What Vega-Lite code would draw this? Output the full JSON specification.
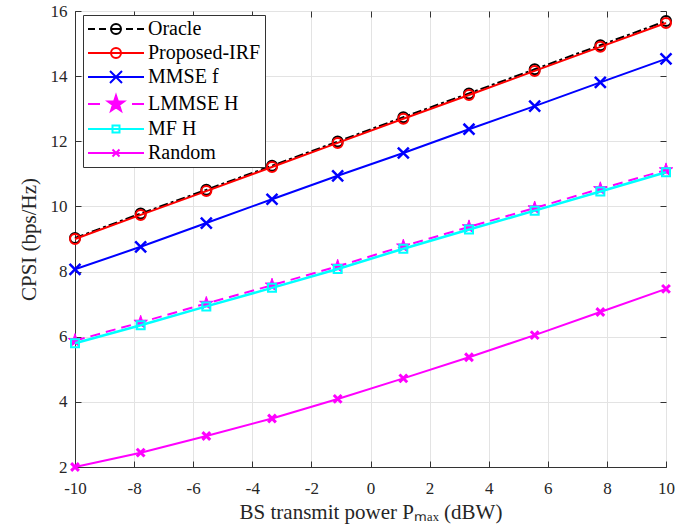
{
  "$schema": "https://vega.github.io/schema/vega-lite/v6.json",
  "width": 591,
  "height": 456,
  "autosize": "none",
  "padding": {"left": 75, "top": 11, "right": 33, "bottom": 62},
  "background": "white",
  "config": {
    "font": "Liberation Serif, Times New Roman, serif",
    "view": {"stroke": "#333333", "strokeWidth": 1},
    "axis": {
      "labelFont": "Liberation Serif, Times New Roman, serif",
      "titleFont": "Liberation Serif, Times New Roman, serif",
      "labelFontSize": 17,
      "titleFontSize": 21,
      "labelColor": "#262626",
      "titleColor": "#262626",
      "titleFontWeight": "normal",
      "labelFlush": false,
      "labelOverlap": false,
      "gridColor": "#e3e3e3",
      "gridWidth": 1,
      "gridOpacity": 1,
      "domainColor": "#333333",
      "tickColor": "#333333",
      "tickSize": -6,
      "tickWidth": 1
    }
  },
  "data": {
    "values": [
      {"p": -10, "series": "Oracle", "c": 9.03},
      {"p": -7.778, "series": "Oracle", "c": 9.78},
      {"p": -5.556, "series": "Oracle", "c": 10.51},
      {"p": -3.333, "series": "Oracle", "c": 11.25},
      {"p": -1.111, "series": "Oracle", "c": 11.99},
      {"p": 1.111, "series": "Oracle", "c": 12.74},
      {"p": 3.333, "series": "Oracle", "c": 13.47},
      {"p": 5.556, "series": "Oracle", "c": 14.21},
      {"p": 7.778, "series": "Oracle", "c": 14.95},
      {"p": 10, "series": "Oracle", "c": 15.69},
      {"p": -10, "series": "Proposed-IRF", "c": 9.0},
      {"p": -7.778, "series": "Proposed-IRF", "c": 9.74},
      {"p": -5.556, "series": "Proposed-IRF", "c": 10.47},
      {"p": -3.333, "series": "Proposed-IRF", "c": 11.21},
      {"p": -1.111, "series": "Proposed-IRF", "c": 11.95},
      {"p": 1.111, "series": "Proposed-IRF", "c": 12.69},
      {"p": 3.333, "series": "Proposed-IRF", "c": 13.42},
      {"p": 5.556, "series": "Proposed-IRF", "c": 14.16},
      {"p": 7.778, "series": "Proposed-IRF", "c": 14.9},
      {"p": 10, "series": "Proposed-IRF", "c": 15.63},
      {"p": -10, "series": "MMSE f", "c": 8.07},
      {"p": -7.778, "series": "MMSE f", "c": 8.76},
      {"p": -5.556, "series": "MMSE f", "c": 9.49},
      {"p": -3.333, "series": "MMSE f", "c": 10.22},
      {"p": -1.111, "series": "MMSE f", "c": 10.94},
      {"p": 1.111, "series": "MMSE f", "c": 11.64},
      {"p": 3.333, "series": "MMSE f", "c": 12.37},
      {"p": 5.556, "series": "MMSE f", "c": 13.08},
      {"p": 7.778, "series": "MMSE f", "c": 13.81},
      {"p": 10, "series": "MMSE f", "c": 14.53},
      {"p": -10, "series": "LMMSE H", "c": 5.88},
      {"p": -7.778, "series": "LMMSE H", "c": 6.44},
      {"p": -5.556, "series": "LMMSE H", "c": 7.02},
      {"p": -3.333, "series": "LMMSE H", "c": 7.58},
      {"p": -1.111, "series": "LMMSE H", "c": 8.16},
      {"p": 1.111, "series": "LMMSE H", "c": 8.78},
      {"p": 3.333, "series": "LMMSE H", "c": 9.37},
      {"p": 5.556, "series": "LMMSE H", "c": 9.95},
      {"p": 7.778, "series": "LMMSE H", "c": 10.54},
      {"p": 10, "series": "LMMSE H", "c": 11.12},
      {"p": -10, "series": "MF H", "c": 5.8},
      {"p": -7.778, "series": "MF H", "c": 6.35},
      {"p": -5.556, "series": "MF H", "c": 6.93},
      {"p": -3.333, "series": "MF H", "c": 7.5},
      {"p": -1.111, "series": "MF H", "c": 8.08},
      {"p": 1.111, "series": "MF H", "c": 8.7},
      {"p": 3.333, "series": "MF H", "c": 9.29},
      {"p": 5.556, "series": "MF H", "c": 9.87},
      {"p": 7.778, "series": "MF H", "c": 10.46},
      {"p": 10, "series": "MF H", "c": 11.05},
      {"p": -10, "series": "Random", "c": 2.0},
      {"p": -7.778, "series": "Random", "c": 2.44},
      {"p": -5.556, "series": "Random", "c": 2.95},
      {"p": -3.333, "series": "Random", "c": 3.49},
      {"p": -1.111, "series": "Random", "c": 4.09},
      {"p": 1.111, "series": "Random", "c": 4.72},
      {"p": 3.333, "series": "Random", "c": 5.37},
      {"p": 5.556, "series": "Random", "c": 6.05},
      {"p": 7.778, "series": "Random", "c": 6.76},
      {"p": 10, "series": "Random", "c": 7.47}
    ]
  },
  "resolve": {"axis": {"x": "independent", "y": "independent"}},
  "layer": [
    {
      "encoding": {
        "x": {
          "field": "p",
          "type": "quantitative",
          "scale": {"domain": [-10, 10], "nice": false},
          "axis": {
            "values": [-10, -8, -6, -4, -2, 0, 2, 4, 6, 8, 10],
            "labelExpr": "'' + datum.value",
            "title": "BS transmit power Pₘₐₓ (dBW)",
            "labelPadding": 19,
            "titlePadding": 5,
            "grid": true
          }
        },
        "y": {
          "field": "c",
          "type": "quantitative",
          "scale": {"domain": [2, 16], "nice": false},
          "axis": {
            "values": [2, 4, 6, 8, 10, 12, 14, 16],
            "title": "CPSI (bps/Hz)",
            "labelPadding": 14,
            "titlePadding": 11,
            "grid": true
          }
        }
      },
      "layer": [
        {
          "transform": [{"filter": "datum.series === 'Oracle'"}],
          "mark": {
            "type": "line",
            "color": "#000000",
            "strokeWidth": 2,
            "strokeDash": [9, 3, 3, 3],
            "point": {"shape": "circle", "filled": false, "stroke": "#000000", "strokeWidth": 2, "size": 100}
          }
        },
        {
          "transform": [{"filter": "datum.series === 'Proposed-IRF'"}],
          "mark": {
            "type": "line",
            "color": "#ff0000",
            "strokeWidth": 2,
            "point": {"shape": "circle", "filled": false, "stroke": "#ff0000", "strokeWidth": 2, "size": 100}
          }
        },
        {
          "transform": [{"filter": "datum.series === 'MMSE f'"}],
          "mark": {
            "type": "line",
            "color": "#0000ff",
            "strokeWidth": 2,
            "point": {"shape": "M-1,-1L1,1M-1,1L1,-1", "filled": false, "stroke": "#0000ff", "strokeWidth": 2.5, "size": 120}
          }
        },
        {
          "transform": [{"filter": "datum.series === 'LMMSE H'"}],
          "mark": {
            "type": "line",
            "color": "#ff00ff",
            "strokeWidth": 2,
            "strokeDash": [10, 6],
            "point": {"shape": "M0,-1L0.2245,-0.309L0.951,-0.309L0.363,0.118L0.588,0.809L0,0.382L-0.588,0.809L-0.363,0.118L-0.951,-0.309L-0.2245,-0.309Z", "filled": true, "fill": "#ff00ff", "stroke": "#ff00ff", "strokeWidth": 1, "opacity": 1, "size": 200}
          }
        },
        {
          "transform": [{"filter": "datum.series === 'MF H'"}],
          "mark": {
            "type": "line",
            "color": "#00ffff",
            "strokeWidth": 2.5,
            "point": {"shape": "square", "filled": false, "stroke": "#00ffff", "strokeWidth": 2, "size": 64}
          }
        },
        {
          "transform": [{"filter": "datum.series === 'Random'"}],
          "mark": {
            "type": "line",
            "color": "#ff00ff",
            "strokeWidth": 2,
            "point": {"shape": "M-1,-1L1,1M-1,1L1,-1", "filled": false, "stroke": "#ff00ff", "strokeWidth": 3, "size": 60}
          }
        },
        {
          "transform": [{"filter": "datum.p > 100"}],
          "mark": {"type": "point", "opacity": 0},
          "encoding": {
            "shape": {
              "field": "series",
              "type": "nominal",
              "scale": {
                "domain": ["Oracle", "Proposed-IRF", "MMSE f", "LMMSE H", "MF H", "Random"],
                "range": [
                  "M-5.6,0H-4.2M-3.4,0H-2M-1,0H1M2,0H3.4M4.2,0H5.6M-1,0A1,1 0 1,0 1,0A1,1 0 1,0 -1,0",
                  "M-5.6,0H5.6M-1,0A1,1 0 1,0 1,0A1,1 0 1,0 -1,0",
                  "M-5.6,0H5.6M-1.2,-1.2L1.2,1.2M-1.2,1.2L1.2,-1.2",
                  "M-5.6,0H-3.2M3.2,0H5.6M0,-1.7L0.382,-0.55L1.617,-0.525L0.64,0.21L1,1.375L0,0.69L-1,1.375L-0.64,0.21L-1.617,-0.525L-0.382,-0.55Z",
                  "M-5.6,0H5.6M-0.7,-0.7H0.7V0.7H-0.7Z",
                  "M-5.6,0H5.6M-0.7,-0.7L0.7,0.7M-0.7,0.7L0.7,-0.7"
                ]
              },
              "legend": {
                "title": null,
                "orient": "none",
                "legendX": 8,
                "legendY": 4,
                "padding": 4,
                "strokeColor": "#333333",
                "fillColor": "white",
                "labelFont": "Liberation Serif, Times New Roman, serif",
                "labelFontSize": 20,
                "labelColor": "#000000",
                "symbolStrokeWidth": 2,
                "symbolSize": 100,
                "symbolOffset": 19,
                "labelOffset": 22,
                "rowPadding": 4,
                "symbolOpacity": 1,
                "labelLimit": 300
              }
            },
            "stroke": {
              "field": "series",
              "type": "nominal",
              "scale": {
                "domain": ["Oracle", "Proposed-IRF", "MMSE f", "LMMSE H", "MF H", "Random"],
                "range": ["#000000", "#ff0000", "#0000ff", "#ff00ff", "#00ffff", "#ff00ff"]
              }
            },
            "fill": {
              "field": "series",
              "type": "nominal",
              "scale": {
                "domain": ["Oracle", "Proposed-IRF", "MMSE f", "LMMSE H", "MF H", "Random"],
                "range": ["transparent", "transparent", "transparent", "#ff00ff", "transparent", "transparent"]
              }
            }
          }
        }
      ]
    },
    {
      "transform": [{"filter": "datum.p > 100"}],
      "mark": {"type": "point", "opacity": 0},
      "encoding": {
        "x": {
          "field": "p",
          "type": "quantitative",
          "axis": {"orient": "top", "values": [-10, -8, -6, -4, -2, 0, 2, 4, 6, 8, 10], "labels": false, "grid": false, "domain": false, "title": null}
        },
        "y": {
          "field": "c",
          "type": "quantitative",
          "axis": {"orient": "right", "values": [2, 4, 6, 8, 10, 12, 14, 16], "labels": false, "grid": false, "domain": false, "title": null}
        }
      }
    }
  ]
}
